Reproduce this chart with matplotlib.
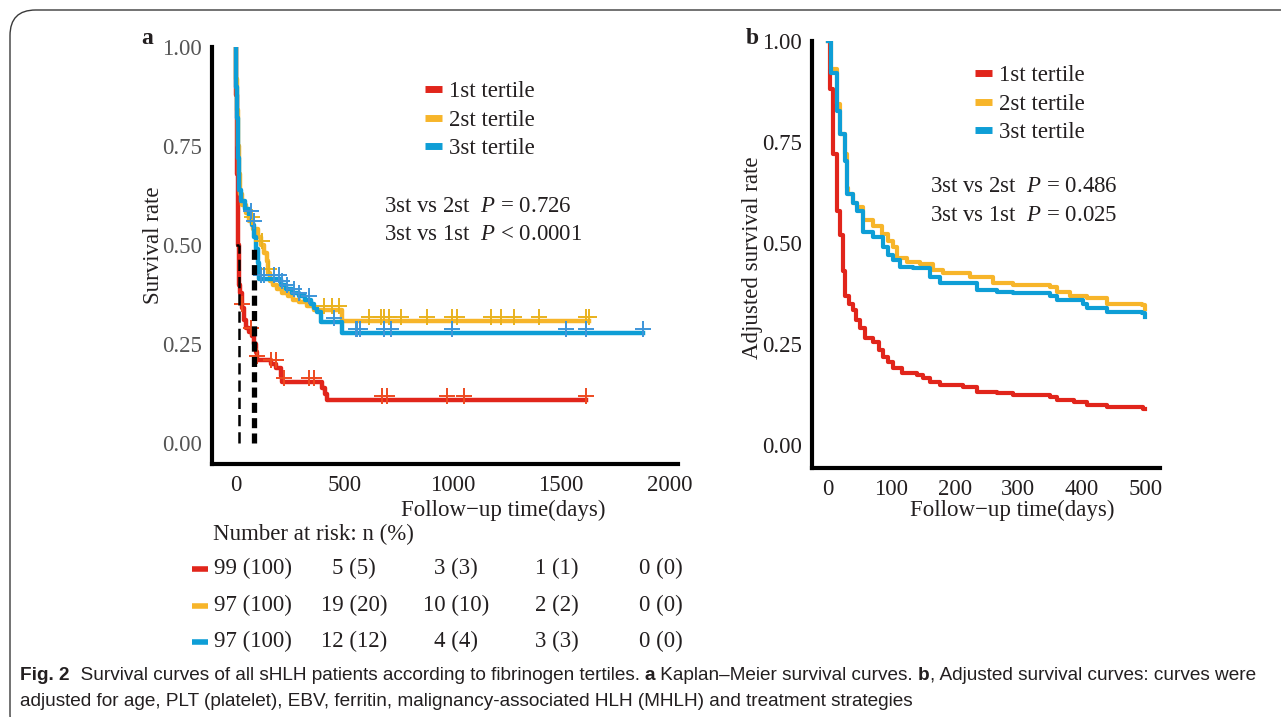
import numpy as np
import matplotlib
matplotlib.use("Agg")
import matplotlib.pyplot as plt
from matplotlib.lines import Line2D
from matplotlib.patches import FancyBboxPatch

plt.rcParams['font.family'] = ['Liberation Serif', 'DejaVu Serif']
plt.rcParams['mathtext.fontset'] = 'custom'
plt.rcParams['mathtext.rm'] = 'Liberation Serif'
plt.rcParams['mathtext.it'] = 'Liberation Serif:italic'

# ---------------- data ----------------
groups = ["1st tertile", "2st tertile", "3st tertile"]
colors = ["#E1251B", "#F7B52A", "#0E9ED6"]
censor_colors = ["#EE4A1F", "#E9B21E", "#3D95D9"]

# Panel a: Kaplan-Meier step curves (days, survival)
km1_t = [0, 2, 4, 6, 8, 11, 13, 14, 20, 28, 37, 46, 60, 74, 83, 92, 97, 160, 185, 208, 212, 397, 410, 420, 1616]
km1_s = [1.0, 0.88, 0.78, 0.68, 0.61, 0.50, 0.45, 0.40, 0.38, 0.34, 0.31, 0.29, 0.28, 0.27, 0.25, 0.23, 0.21, 0.20, 0.19, 0.17, 0.155, 0.14, 0.125, 0.108, 0.108]
km2_t = [0, 3, 6, 10, 14, 20, 30, 45, 60, 80, 100, 115, 130, 145, 150, 158, 170, 190, 215, 240, 265, 290, 330, 360, 490, 1630]
km2_s = [1.0, 0.92, 0.84, 0.75, 0.68, 0.63, 0.60, 0.58, 0.56, 0.54, 0.52, 0.50, 0.48, 0.46, 0.43, 0.41, 0.40, 0.39, 0.38, 0.37, 0.36, 0.355, 0.345, 0.335, 0.308, 0.308]
km3_t = [0, 3, 6, 10, 14, 25, 40, 60, 75, 85, 95, 100, 106, 210, 230, 260, 290, 320, 345, 360, 375, 392, 490, 1877]
km3_s = [1.0, 0.90, 0.82, 0.72, 0.64, 0.61, 0.59, 0.575, 0.55, 0.52, 0.49, 0.455, 0.415, 0.40, 0.39, 0.38, 0.37, 0.36, 0.35, 0.34, 0.33, 0.306, 0.278, 0.278]

cens1 = [28, 69, 97, 160, 183, 222, 337, 360, 675, 698, 975, 1053, 1616]
cens2 = [74, 120, 152, 406, 443, 476, 614, 670, 684, 707, 762, 882, 998, 1021, 1178, 1224, 1284, 1400, 1616, 1630]
cens3 = [69, 83, 115, 129, 175, 199, 212, 236, 268, 291, 337, 453, 553, 560, 575, 684, 714, 999, 1523, 1615, 1877]

median_days = [14, 83]

# Panel b: adjusted survival curves
adj1_t = [0, 3, 8, 14, 19, 24, 27, 33, 39, 45, 50, 58, 71, 80, 87, 95, 103, 117, 140, 150, 161, 177, 213, 235, 266, 292, 350, 361, 387, 408, 440, 497, 500]
adj1_s = [1.0, 0.88, 0.72, 0.58, 0.52, 0.43, 0.37, 0.35, 0.333, 0.31, 0.29, 0.264, 0.254, 0.235, 0.217, 0.205, 0.19, 0.178, 0.173, 0.165, 0.156, 0.148, 0.143, 0.131, 0.128, 0.123, 0.119, 0.111, 0.106, 0.099, 0.094, 0.088, 0.088]
adj2_t = [0, 5, 14, 19, 27, 30, 32, 40, 46, 55, 71, 85, 95, 103, 109, 125, 145, 166, 181, 224, 260, 292, 350, 361, 382, 408, 440, 495, 500]
adj2_s = [1.0, 0.93, 0.845, 0.77, 0.72, 0.637, 0.622, 0.60, 0.588, 0.556, 0.543, 0.523, 0.505, 0.489, 0.464, 0.452, 0.449, 0.432, 0.425, 0.415, 0.402, 0.395, 0.39, 0.378, 0.37, 0.365, 0.35, 0.346, 0.336]
adj3_t = [0, 5, 14, 19, 27, 30, 40, 46, 55, 71, 87, 95, 103, 114, 134, 161, 177, 213, 235, 266, 292, 350, 361, 402, 408, 440, 495, 500]
adj3_s = [1.0, 0.92, 0.827, 0.77, 0.703, 0.622, 0.60, 0.58, 0.526, 0.514, 0.489, 0.47, 0.457, 0.44, 0.437, 0.415, 0.402, 0.40, 0.383, 0.378, 0.375, 0.37, 0.358, 0.35, 0.338, 0.328, 0.326, 0.318]

yticks = [0.00, 0.25, 0.50, 0.75, 1.00]
xticks_a = [0, 500, 1000, 1500, 2000]
xticks_b = [0, 100, 200, 300, 400, 500]

risk_rows = [["99 (100)", "5 (5)", "3 (3)", "1 (1)", "0 (0)"],
             ["97 (100)", "19 (20)", "10 (10)", "2 (2)", "0 (0)"],
             ["97 (100)", "12 (12)", "4 (4)", "3 (3)", "0 (0)"]]

pvals_a = [r"3st vs 2st  $P$ = 0.726", r"3st vs 1st  $P$ < 0.0001"]
pvals_b = [r"3st vs 2st  $P$ = 0.486", r"3st vs 1st  $P$ = 0.025"]

# ---------------- figure ----------------
W, H = 1281, 717
fig = plt.figure(figsize=(W / 100, H / 100), dpi=100)
TXT = "#231F20"
FS = 16.5

def fx(px):
    return px / W

def fy(py):
    return 1 - py / H

# frame
frame = FancyBboxPatch((fx(10), fy(740)), fx(1300), fy(10) - fy(740),
                       boxstyle="round,pad=0,rounding_size=0.02",
                       transform=fig.transFigure, fill=False,
                       edgecolor="#3a3a3a", linewidth=1.0, mutation_aspect=W / H)
fig.add_artist(frame)

def style_axes(ax, ycolor):
    for s in ["top", "right"]:
        ax.spines[s].set_visible(False)
    for s in ["left", "bottom"]:
        ax.spines[s].set_linewidth(3.0)
        ax.spines[s].set_color("black")
    ax.tick_params(axis="both", length=0, labelsize=FS)
    ax.tick_params(axis="y", pad=7, labelcolor=ycolor)
    ax.tick_params(axis="x", pad=8, labelcolor=TXT)
    ax.set_yticks(yticks)
    ax.set_yticklabels([f"{v:.2f}" for v in yticks])

def step_value(t, s, x):
    idx = np.searchsorted(np.asarray(t), x, side="right") - 1
    return np.asarray(s)[np.clip(idx, 0, len(s) - 1)]

def make_legend(ax, x_px, y_px):
    leg = ax.legend(loc="upper left", bbox_to_anchor=(fx(x_px), fy(y_px)),
                    bbox_transform=fig.transFigure, frameon=False, fontsize=FS,
                    handlelength=0.75, handletextpad=0.3, labelspacing=0.33,
                    borderpad=0, borderaxespad=0)
    for h in leg.legend_handles:
        h.set_linewidth(5)
        h.set_solid_capstyle("butt")
    for t in leg.get_texts():
        t.set_color(TXT)
    return leg

# ---------- panel a ----------
axa = fig.add_axes([fx(212), fy(464), fx(678) - fx(212), fy(47) - fy(464)])
style_axes(axa, "#555555")
axa.set_xlim(-110, 2040)
axa.set_ylim(-0.053, 1.0)
axa.set_xticks(xticks_a)

kms = [(km1_t, km1_s, cens1), (km2_t, km2_s, cens2), (km3_t, km3_s, cens3)]
for i, (t, s, c) in enumerate(kms):
    axa.step(t, s, where="post", color=colors[i], lw=3.2, label=groups[i], zorder=3)
for i, (t, s, c) in enumerate(kms):
    axa.plot(c, step_value(t, s, c) + 0.01, ls="none", marker="+", ms=11, mew=1.4,
             color=censor_colors[i], zorder=4)

# median lines
axa.plot([0, median_days[0]], [0.5, 0.5], color="black", lw=1.8, ls=(0, (4, 2)), zorder=5)
axa.plot([median_days[0]] * 2, [0, 0.5], color="black", lw=1.8, ls=(0, (4.5, 2.4)), zorder=5)
axa.plot([median_days[1]] * 2, [0, 0.5], color="black", lw=3.8, ls=(0, (1.9, 1.0)), zorder=5)

axa.set_xlabel("Follow\u2212up time(days)", fontsize=FS, color=TXT, va="center")
axa.xaxis.set_label_coords((503 - 212) / 466, -(510 - 464) / 417)
axa.set_ylabel("Survival rate", fontsize=FS, color=TXT)
axa.yaxis.set_label_coords((164 - 212) / 466, (464 - 245) / 417)

make_legend(axa, 425, 81)

for k, txt in enumerate(pvals_a):
    fig.text(fx(384), fy(207 + 28 * k), txt, fontsize=FS, color=TXT, va="center", ha="left")

fig.text(fx(141), fy(38), "a", fontsize=17, fontweight="bold", color=TXT, va="center")

# number at risk table
fig.text(fx(213), fy(534), "Number at risk: n (%)", fontsize=FS, color=TXT, va="center")
col_x = [253, 354, 456, 557, 661]
row_y = [568, 605, 641]
for r, row in enumerate(risk_rows):
    fig.add_artist(Line2D([fx(192), fx(208)], [fy(row_y[r] + 1)] * 2, color=colors[r],
                          lw=4, transform=fig.transFigure, solid_capstyle="butt"))
    for cx, val in zip(col_x, row):
        fig.text(fx(cx), fy(row_y[r]), val, fontsize=FS, color=TXT, va="center", ha="center")

# ---------- panel b ----------
axb = fig.add_axes([fx(812), fy(468), fx(1160) - fx(812), fy(41) - fy(468)])
style_axes(axb, TXT)
axb.set_xlim(-25, 523)
axb.set_ylim(-0.057, 1.0)
axb.set_xticks(xticks_b)

adjs = [(adj1_t, adj1_s), (adj2_t, adj2_s), (adj3_t, adj3_s)]
for i, (t, s) in enumerate(adjs):
    axb.step(t, s, where="post", color=colors[i], lw=3.0, label=groups[i])

axb.set_xlabel("Follow\u2212up time(days)", fontsize=FS, color=TXT, va="center")
axb.xaxis.set_label_coords((1012 - 812) / 348, -(510 - 468) / 427)
axb.set_ylabel("Adjusted survival rate", fontsize=FS, color=TXT)
axb.yaxis.set_label_coords((763 - 812) / 348, (468 - 258) / 427)

make_legend(axb, 975, 65)

for k, txt in enumerate(pvals_b):
    fig.text(fx(930), fy(187 + 28 * k), txt, fontsize=FS, color=TXT, va="center", ha="left")

fig.text(fx(746), fy(38), "b", fontsize=17, fontweight="bold", color=TXT, va="center")

# ---------- caption ----------
cap_family = ["Liberation Sans Narrow", "Liberation Sans", "DejaVu Sans"]
cap_fs = 13.7
renderer = fig.canvas.get_renderer()

def draw_runs(x_px, y_px, runs):
    x = fx(x_px)
    for txt, weight in runs:
        t = fig.text(x, fy(y_px), txt, fontsize=cap_fs, fontweight=weight, color=TXT,
                     family=cap_family, va="center", ha="left")
        bb = t.get_window_extent(renderer)
        x += bb.width / W

draw_runs(20, 675, [("Fig. 2", "bold"),
                    ("  Survival curves of all sHLH patients according to fibrinogen tertiles. ", "normal"),
                    ("a", "bold"), (" Kaplan\u2013Meier survival curves. ", "normal"),
                    ("b", "bold"), (", Adjusted survival curves: curves were", "normal")])
draw_runs(20, 701, [("adjusted for age, PLT (platelet), EBV, ferritin, malignancy-associated HLH (MHLH) and treatment strategies", "normal")])

fig.savefig("out.png", dpi=100)
